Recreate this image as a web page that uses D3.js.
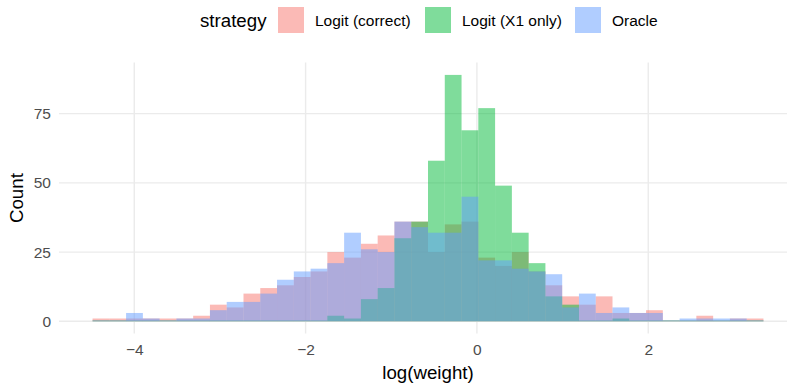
<!DOCTYPE html>
<html>
<head>
<meta charset="utf-8">
<script src="https://cdn.jsdelivr.net/npm/d3@7"></script>
<style>
  body { margin:0; background:#fff; }
  text { font-family: "Liberation Sans", Arial, sans-serif; }
</style>
</head>
<body>
<div id="plot"></div>
<script>
// histogram bins: 40 bins
var binMin = -4.487,
    binWidth = 0.1958;

var strategies = ["Logit (correct)", "Logit (X1 only)", "Oracle"];
var colors = ["#F8766D", "#00BA38", "#619CFF"];

var logitCorrect = [1,1,1,1,1,1,2,6,5,10,12,13,16,18,25,23,28,31,36,36,
                    25,35,36,23,20,25,18,13,9,6,9,3,3,4,0,0,2,0,1,1];
var logitX1 = [0,0,0,0,0,0,0,0,0,0,0,0,0,0,2,1,8,12,30,36,
               58,89,69,77,49,32,21,9,6,0,0,1,0,0,0,0,0,0,0,0];
var oracle = [0,0,3,1,0,1,1,4,7,7,10,15,18,19,21,32,26,25,36,34,
              32,32,45,22,22,19,18,17,5,10,3,5,3,3,0,1,1,1,1,0];

var xTicks = [-4, -2, 0, 2];
var yTicks = [0, 25, 50, 75];

var W = 787, H = 384;
var panel = {l:59, r:797, t:62.6, b:333.6};

var svg = d3.select('#plot')
    .append('svg')
    .attr('width', W)
    .attr('height', H);

var series = [logitCorrect, logitX1, oracle];
var nBins = logitCorrect.length;
var binMax = binMin + nBins*binWidth;
var yMax = d3.max(series, function(s){ return d3.max(s); });

// ggplot style 5% expansion
var xPad = (binMax - binMin)*0.05;
var x = d3.scaleLinear()
    .domain([binMin - xPad, binMax + xPad])
    .range([panel.l, panel.r]);
var y = d3.scaleLinear()
    .domain([-yMax*0.05, yMax*1.05])
    .range([panel.b, panel.t]);

// grid
svg.append('g').selectAll('line')
    .data(yTicks)
    .enter()
    .append('line')
    .attr('x1', panel.l).attr('x2', panel.r)
    .attr('y1', function(d){ return y(d); })
    .attr('y2', function(d){ return y(d); })
    .style('stroke', '#EBEBEB')
    .style('stroke-width', 1.4);

svg.append('g').selectAll('line')
    .data(xTicks)
    .enter()
    .append('line')
    .attr('y1', panel.t).attr('y2', panel.b)
    .attr('x1', function(d){ return x(d); })
    .attr('x2', function(d){ return x(d); })
    .style('stroke', '#EBEBEB')
    .style('stroke-width', 1.4);

// bars, drawn in group order with alpha 0.5
series.forEach(function(counts, k){
    svg.append('g').selectAll('rect')
        .data(counts)
        .enter()
        .append('rect')
        .attr('x', function(d,i){ return x(binMin + i*binWidth); })
        .attr('width', function(d,i){ return x(binMin + (i+1)*binWidth) - x(binMin + i*binWidth); })
        .attr('y', function(d){ return Math.min(y(d), y(0) - 0.8); })
        .attr('height', function(d){ return Math.max(y(0) - y(d), 0.8); })
        .style('fill', colors[k])
        .style('fill-opacity', 0.5);
});

// axes (text only, theme_minimal)
var xAxis = d3.axisBottom(x).tickValues(xTicks).tickSize(0).tickPadding(0)
    .tickFormat(function(d){ return d < 0 ? '\u2212' + Math.abs(d) : d; });
var gx = svg.append('g')
    .attr('transform', 'translate(0,' + 355 + ')')
    .call(xAxis);
gx.select('.domain').remove();
gx.selectAll('text')
    .attr('dy', 0).attr('y', 0)
    .style('font-size', '15.5px')
    .style('fill', '#4D4D4D');

var yAxis = d3.axisLeft(y).tickValues(yTicks).tickSize(0).tickPadding(0);
var gy = svg.append('g')
    .attr('transform', 'translate(' + 51 + ',0)')
    .call(yAxis);
gy.select('.domain').remove();
gy.selectAll('text')
    .attr('x', 0)
    .style('font-size', '15.5px')
    .style('fill', '#4D4D4D');

svg.append('text')
    .attr('x', (panel.l + panel.r)/2)
    .attr('y', 379)
    .attr('text-anchor', 'middle')
    .style('font-size', '18.7px')
    .text('log(weight)');

svg.append('text')
    .attr('transform', 'translate(23,' + (panel.t + panel.b)/2 + ') rotate(-90)')
    .attr('text-anchor', 'middle')
    .style('font-size', '18.7px')
    .text('Count');

// legend on top
var legend = svg.append('g');
legend.append('text')
    .attr('x', 200).attr('y', 20)
    .attr('dominant-baseline', 'central')
    .style('font-size', '18.7px')
    .text('strategy');

var keyX = [278, 425, 575];
var items = legend.selectAll('.key')
    .data(strategies)
    .enter()
    .append('g')
    .attr('class', 'key')
    .attr('transform', function(d,i){ return 'translate(' + keyX[i] + ',7)'; });

items.append('rect')
    .attr('width', 26).attr('height', 26)
    .style('fill', function(d,i){ return colors[i]; })
    .style('fill-opacity', 0.5);

items.append('text')
    .attr('x', 37).attr('y', 13)
    .attr('dominant-baseline', 'central')
    .style('font-size', '15.5px')
    .text(function(d){ return d; });
</script>
</body>
</html>
